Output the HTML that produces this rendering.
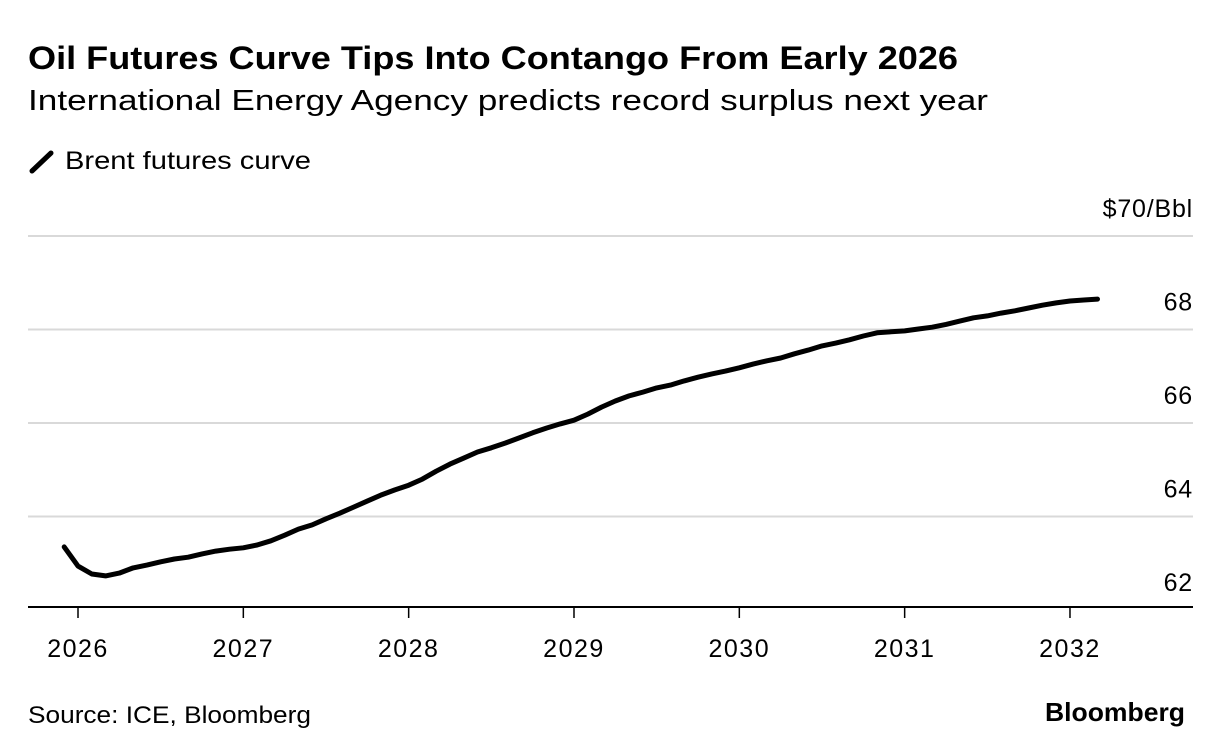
<!DOCTYPE html>
<html><head><meta charset="utf-8"><style>
body{margin:0;width:1223px;height:756px;background:#fff;font-family:"Liberation Sans",sans-serif;color:#000;overflow:hidden;position:relative}
.t{position:absolute;white-space:nowrap;transform-origin:0 50%}
</style></head><body>
<div class="t" data-w="930" style="left:28px;top:40px;font-size:32px;font-weight:bold">Oil Futures Curve Tips Into Contango From Early 2026</div>
<div class="t" data-w="960" style="left:28px;top:85px;font-size:29px">International Energy Agency predicts record surplus next year</div>
<svg width="30" height="26" style="position:absolute;left:28px;top:148px"><line x1="4" y1="23" x2="23" y2="5" stroke="#000" stroke-width="5" stroke-linecap="round"/></svg>
<div class="t" data-w="246" style="left:65px;top:147px;font-size:25px">Brent futures curve</div>
<div class="t" data-w="283" style="left:28px;top:702px;font-size:24px">Source: ICE, Bloomberg</div>
<div class="t" data-w="140" style="left:1045px;top:697px;font-size:26px;font-weight:bold">Bloomberg</div>
<svg id="c" width="1223" height="756" style="position:absolute;left:0;top:0"></svg>
<script>
const values=[63.35,62.94,62.77,62.73,62.79,62.9,62.96,63.03,63.09,63.13,63.2,63.26,63.3,63.33,63.39,63.48,63.6,63.73,63.82,63.95,64.07,64.2,64.33,64.46,64.57,64.67,64.8,64.97,65.12,65.25,65.38,65.47,65.57,65.68,65.79,65.89,65.98,66.06,66.19,66.34,66.47,66.58,66.66,66.75,66.81,66.9,66.98,67.05,67.11,67.18,67.26,67.33,67.39,67.48,67.56,67.65,67.71,67.78,67.86,67.93,67.95,67.97,68.01,68.05,68.11,68.18,68.25,68.29,68.35,68.4,68.46,68.52,68.57,68.61,68.63,68.65];
const startMonth=-1; // Dec 2025 relative to Jan 2026
const yTicks=[62,64,66,68,70];
const xTicks=[2026,2027,2028,2029,2030,2031,2032];
const NS="http://www.w3.org/2000/svg",svg=document.getElementById('c');
const y=v=>236+(70-v)*46.75;
const x=m=>78+m*(165.33/12);
function mk(t,a){const e=document.createElementNS(NS,t);for(const k in a)e.setAttribute(k,a[k]);svg.appendChild(e);return e;}
yTicks.forEach(v=>{
  if(v>62){const g=mk('line',{x1:28,x2:1193,y1:y(v),y2:y(v),stroke:'#d9d9d9','stroke-width':2});
  
  }
  const t=mk('text',{x:1193,y:y(v)-19,'text-anchor':'end','font-size':25,'letter-spacing':0.8,'font-family':'Liberation Sans, sans-serif'});
  t.textContent=v==70?'$70/Bbl':v;
  
  
});
const ax=mk('line',{x1:28,x2:1193,y1:607,y2:607,stroke:'#000','stroke-width':2});


xTicks.forEach(yr=>{
  const px=x((yr-2026)*12);
  const tk=mk('line',{x1:px,x2:px,y1:607,y2:618,stroke:'#000','stroke-width':1.5});
  
  
  const t=mk('text',{x:px,y:657,'text-anchor':'middle','font-size':25,'letter-spacing':1.5,'font-family':'Liberation Sans, sans-serif'});
  t.textContent=yr;
  
  
});
const d=values.map((v,i)=>(i?'L':'M')+x(startMonth+i).toFixed(1)+','+y(v).toFixed(1)).join('');
const p=mk('path',{d:d,fill:'none',stroke:'#000','stroke-width':5,'stroke-linejoin':'round','stroke-linecap':'round'});


document.querySelectorAll('[data-w]').forEach(el=>{
  const w=el.getBoundingClientRect().width;
  el.style.transform='scaleX('+(el.dataset.w/w)+')';
});
</script>
</body></html>
